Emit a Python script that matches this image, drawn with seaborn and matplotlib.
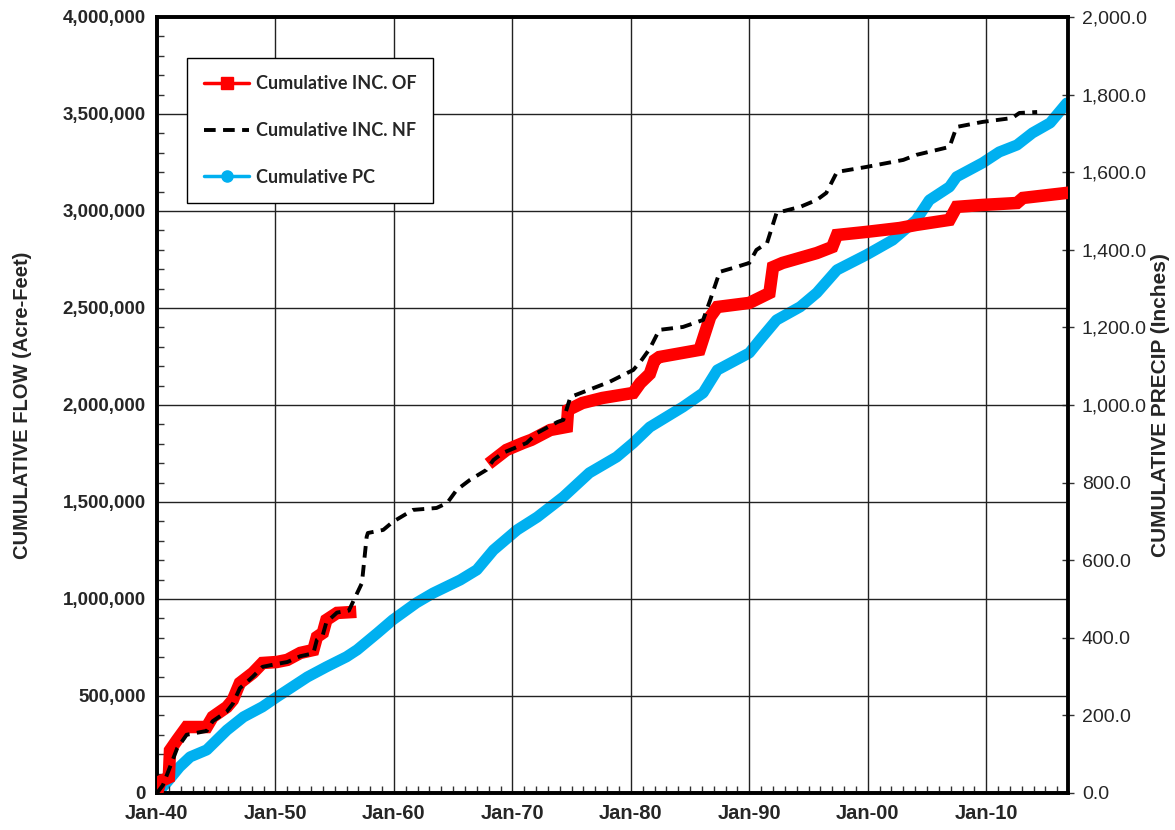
import matplotlib
matplotlib.use("Agg")
import matplotlib.pyplot as plt
from matplotlib.lines import Line2D
from matplotlib.ticker import FuncFormatter, MultipleLocator
import numpy as np
import pandas as pd
import seaborn as sns

# Cumulative incremental observed flow (acre-feet); record has a gap 1956-1968
of_year_early = [1940.0, 1940.3, 1941.0, 1941.1, 1941.7, 1942.5, 1944.2, 1944.7, 1945.9,
                 1946.4, 1947.0, 1948.1, 1948.9, 1950.1, 1951.0, 1952.1, 1953.2, 1953.5,
                 1954.0, 1954.3, 1955.2, 1956.3]
of_flow_early = [0, 60000, 80000, 220000, 273000, 340000, 340000, 392000, 443000,
                 479000, 567000, 619000, 670000, 675000, 686000, 722000, 737000, 804000,
                 825000, 892000, 928000, 932000]
of_year_late = [1968.4, 1969.5, 1970.9, 1971.6, 1973.2, 1974.6, 1974.7, 1975.9, 1977.6,
                1980.2, 1980.8, 1981.6, 1982.0, 1982.4, 1985.8, 1986.7, 1987.3, 1990.0,
                1991.7, 1992.0, 1992.8, 1995.7, 1997.0, 1997.4, 1999.9, 2002.7, 2004.1,
                2006.9, 2007.5, 2009.7, 2012.6, 2013.1, 2016.8]
of_flow_late = [1716000, 1768000, 1804000, 1820000, 1871000, 1887000, 1974000, 2010000,
                2036000, 2062000, 2113000, 2160000, 2230000, 2247000, 2284000, 2454000,
                2505000, 2526000, 2577000, 2711000, 2732000, 2783000, 2814000, 2876000,
                2892000, 2912000, 2928000, 2954000, 3021000, 3031000, 3041000, 3067000,
                3093000]

# Cumulative incremental naturalized flow (acre-feet)
nf_year = [1940.0, 1940.5, 1941.2, 1941.7, 1942.5, 1944.2, 1944.7, 1945.9, 1946.4, 1947.0,
           1948.1, 1948.9, 1950.1, 1951.0, 1952.1, 1953.2, 1953.5, 1954.0, 1954.3, 1955.2,
           1956.2, 1956.7, 1957.3, 1957.7, 1957.8, 1959.1, 1959.9, 1961.6, 1963.6, 1964.5,
           1965.3, 1966.4, 1967.8, 1968.4, 1969.2, 1971.2, 1972.1, 1973.8, 1974.3, 1974.9,
           1976.0, 1978.2, 1979.7, 1980.2, 1980.8, 1981.6, 1982.4, 1984.4, 1986.1, 1986.7,
           1987.5, 1988.9, 1990.0, 1990.6, 1991.5, 1992.3, 1994.3, 1995.7, 1996.5, 1997.4,
           1999.9, 2003.0, 2004.1, 2006.9, 2007.5, 2009.7, 2012.2, 2012.8, 2014.3]
nf_flow = [0, 40000, 150000, 230000, 300000, 320000, 370000, 420000, 460000, 540000,
           600000, 650000, 665000, 675000, 705000, 720000, 790000, 815000, 880000, 930000,
           940000, 1005000, 1082000, 1320000, 1340000, 1356000, 1397000, 1459000, 1469000,
           1495000, 1562000, 1613000, 1665000, 1716000, 1753000, 1804000, 1856000, 1912000,
           1923000, 2041000, 2067000, 2119000, 2165000, 2180000, 2222000, 2290000, 2387000,
           2402000, 2438000, 2541000, 2686000, 2711000, 2732000, 2799000, 2835000, 2990000,
           3021000, 3057000, 3093000, 3201000, 3227000, 3263000, 3289000, 3330000, 3433000,
           3459000, 3479000, 3505000, 3510000]

# Cumulative precipitation (inches)
pc_year = [1940.0, 1940.8, 1941.9, 1942.8, 1944.2, 1945.9, 1947.3, 1948.9, 1950.1, 1951.0,
           1952.7, 1954.3, 1956.0, 1956.9, 1958.6, 1959.9, 1961.9, 1963.3, 1965.6, 1967.0,
           1968.4, 1970.4, 1972.1, 1974.3, 1976.5, 1978.8, 1980.2, 1981.6, 1984.4, 1986.1,
           1987.3, 1990.0, 1990.9, 1992.3, 1994.3, 1995.7, 1997.4, 1999.9, 2002.1, 2004.1,
           2005.2, 2006.9, 2007.5, 2009.7, 2011.1, 2012.6, 2013.9, 2015.4, 2016.8]
pc_precip = [0, 26, 67, 93, 111, 162, 196, 222, 247, 265, 299, 325, 351, 369, 412, 446,
             490, 515, 549, 575, 626, 678, 711, 763, 825, 866, 902, 943, 995, 1031, 1090,
             1134, 1168, 1219, 1253, 1289, 1348, 1387, 1425, 1477, 1528, 1562, 1588, 1624,
             1652, 1670, 1701, 1727, 1778]

decade_ticks = [1940, 1950, 1960, 1970, 1980, 1990, 2000, 2010]
decade_labels = ["Jan-40", "Jan-50", "Jan-60", "Jan-70", "Jan-80", "Jan-90", "Jan-00", "Jan-10"]
series_labels = ["Cumulative INC. OF", "Cumulative INC. NF", "Cumulative PC"]

RED = "#FF0000"
CYAN = "#00B0F0"
NF_DASHES = [3.0, 1.9]

sns.set_theme(style="white")
plt.rcParams["font.family"] = ["Liberation Sans", "DejaVu Sans"]

fig = plt.figure(figsize=(11.75, 8.3), dpi=100)
ax = fig.add_axes([0.1336, 0.0446, 0.7753, 0.935])
ax2 = ax.twinx()

of_df = pd.DataFrame({
    "year": of_year_early + of_year_late,
    "flow": of_flow_early + of_flow_late,
    "seg": [0] * len(of_year_early) + [1] * len(of_year_late),
})
nf_df = pd.DataFrame({"year": nf_year, "flow": nf_flow})
pc_df = pd.DataFrame({"year": pc_year, "precip": pc_precip})

sns.lineplot(data=pc_df, x="year", y="precip", ax=ax2, color=CYAN, lw=8.0,
             sort=False, estimator=None, solid_capstyle="round", zorder=2)
sns.lineplot(data=of_df, x="year", y="flow", units="seg", estimator=None, ax=ax,
             color=RED, lw=9.0, sort=False, solid_capstyle="projecting",
             solid_joinstyle="miter", zorder=3)
sns.lineplot(data=nf_df, x="year", y="flow", ax=ax, color="black", lw=2.8,
             sort=False, estimator=None, zorder=4)
ax.lines[-1].set_dashes(NF_DASHES)

# draw the twin axis behind the primary one so flow lines sit on top
ax.set_zorder(ax2.get_zorder() + 1)
ax.patch.set_visible(False)
ax2.patch.set_visible(True)
ax2.patch.set_facecolor("white")

ax.set_xlim(1940, 2016.9)
ax.set_ylim(0, 4000000)
ax2.set_ylim(0, 2000)

ax.set_xticks(decade_ticks)
ax.set_xticklabels(decade_labels, fontsize=14.5, fontweight="bold")
ax.xaxis.set_minor_locator(MultipleLocator(1))
ax.yaxis.set_major_locator(MultipleLocator(500000))
ax.yaxis.set_minor_locator(MultipleLocator(100000))
ax.yaxis.set_major_formatter(FuncFormatter(lambda v, p: f"{v:,.0f}"))
ax2.yaxis.set_major_locator(MultipleLocator(200))
ax2.yaxis.set_major_formatter(FuncFormatter(lambda v, p: f"{v:,.1f}"))

for lab in ax.get_yticklabels():
    lab.set_fontweight("bold")
ax.tick_params(axis="y", which="major", direction="in", length=0, labelsize=13.5, pad=8)
ax.tick_params(axis="y", which="minor", direction="in", length=5, width=1, color="#333333", left=True)
ax.tick_params(axis="x", which="major", direction="in", length=0, pad=8)
ax.tick_params(axis="x", which="minor", direction="in", length=5, width=1, color="#333333", bottom=True)
ax2.tick_params(axis="y", which="major", direction="inout", length=8, width=1,
                color="#333333", labelsize=14, pad=6)

ax.grid(True, which="major", color="#222222", lw=1.0)
ax.set_axisbelow(True)
ax2.grid(False)

for a in (ax, ax2):
    for side in ("left", "bottom", "top", "right"):
        a.spines[side].set_visible(True)
        a.spines[side].set_color("black")
        a.spines[side].set_linewidth(2.6)
ax2.spines["right"].set_color("#333333")

ax.set_xlabel("")
ax.set_ylabel("CUMULATIVE FLOW (Acre-Feet)", fontsize=14.5, fontweight="bold", labelpad=22)
ax2.set_ylabel("CUMULATIVE PRECIP (Inches)", fontsize=15, fontweight="bold", labelpad=3)

handles = [
    Line2D([], [], color=RED, lw=2.5, marker="s", markersize=9),
    Line2D([], [], color="black", lw=2.8, dashes=NF_DASHES),
    Line2D([], [], color=CYAN, lw=2.5, marker="o", markersize=8),
]
leg = ax.legend(handles, series_labels, loc="upper left", bbox_to_anchor=(0.033, 0.947),
                frameon=True, fancybox=False, edgecolor="black", framealpha=1,
                borderpad=0.95, labelspacing=1.65, handlelength=2.5, handletextpad=0.35,
                borderaxespad=0,
                prop={"family": ["Lato", "DejaVu Sans"], "weight": "bold", "size": 13})
leg.get_frame().set_linewidth(1.0)

fig.savefig("out.png", dpi=100)
